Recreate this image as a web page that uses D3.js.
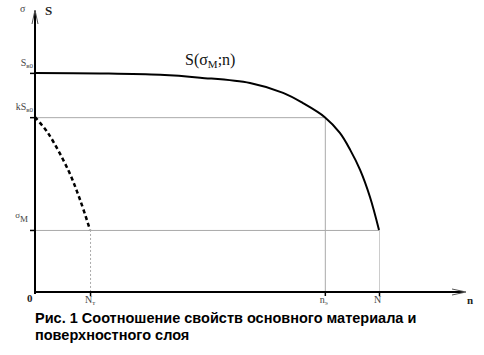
<!DOCTYPE html>
<html><head><meta charset="utf-8">
<script src="https://cdn.jsdelivr.net/npm/d3@7"></script>
<style>body{margin:0;background:#fff}svg{display:block}</style>
</head><body>
<svg id="c" width="484" height="355"></svg>
<script>
// data (arbitrary units)
const mainCurveN = [0, 15.1, 29.1, 38.4, 50, 57.7, 62.3, 67.4, 70.9, 73.3, 75.6, 77.9, 80];
const mainCurveS = [77.7, 77.5, 77.0, 76.0, 74.1, 70.6, 67, 62, 56.4, 50.4, 43.3, 33.7, 22];
const surfCurveN = [0, 3, 7.7, 10.5, 12.8];
const surfCurveS = [62, 56.4, 43.3, 32.6, 22];
const xTickValues = [12.8, 67.4, 80];
const xTickLabels = [["N","т"], ["n","э"], ["N",""]];
const yTickValues = [22, 62, 77.7];
const yTickLabels = [["σ","M",""], ["S","в0","k"], ["S","в0",""]];
const caption = ["Рис. 1 Соотношение свойств основного материала и", "поверхностного слоя"];

const svg = d3.select("#c");
const x = d3.scaleLinear().domain([0, 100]).range([35, 465]);
const y = d3.scaleLinear().domain([0, 100]).range([292, 10]);
const serif = "'Liberation Serif','Times New Roman',serif";

// guide lines
const Nt = xTickValues[0], ne = xTickValues[1], N = xTickValues[2];
const sM = yTickValues[0], kS = yTickValues[1];
const g = svg.append("g").attr("stroke", "#aaa").attr("stroke-width", 1).attr("fill", "none");
g.append("line").attr("x1", x(0)).attr("x2", x(ne)).attr("y1", y(kS)+0.5).attr("y2", y(kS)+0.5);
g.append("line").attr("x1", x(0)).attr("x2", x(N)).attr("y1", y(sM)+0.5).attr("y2", y(sM)+0.5);
g.append("line").attr("x1", x(ne)+0.5).attr("x2", x(ne)+0.5).attr("y1", y(kS)).attr("y2", y(0));
g.append("line").attr("x1", x(N)+0.5).attr("x2", x(N)+0.5).attr("y1", y(sM)).attr("y2", y(0)).attr("stroke", "#ccc");
g.append("line").attr("x1", x(Nt)+0.5).attr("x2", x(Nt)+0.5).attr("y1", y(sM)).attr("y2", y(0)).attr("stroke-dasharray", "2,2");

// curves
const line = d3.line().x(d => x(d[0])).y(d => y(d[1])).curve(d3.curveCatmullRom);
svg.append("path").datum(d3.zip(mainCurveN, mainCurveS)).attr("d", line)
  .attr("fill", "none").attr("stroke", "#000").attr("stroke-width", 2);
svg.append("path").datum(d3.zip(surfCurveN, surfCurveS)).attr("d", line)
  .attr("fill", "none").attr("stroke", "#000").attr("stroke-width", 2.5).attr("stroke-dasharray", "4,3");

// axes
const xAxis = d3.axisBottom(x).tickValues(xTickValues).tickSize(4).tickFormat("");
const yAxis = d3.axisLeft(y).tickValues(yTickValues).tickSize(5).tickFormat("");
const xa = svg.append("g").attr("transform", `translate(0,${y(0)})`).call(xAxis);
const ya = svg.append("g").attr("transform", `translate(${x(0)},0)`).call(yAxis);
[xa, ya].forEach(a => { a.select(".domain").remove(); a.selectAll(".tick line").attr("stroke", "#000").attr("stroke-width", 1.5); });
svg.append("line").attr("x1", x(0)).attr("x2", x(0)).attr("y1", y(0)+2).attr("y2", 11).attr("stroke", "#000").attr("stroke-width", 2);
svg.append("line").attr("x1", x(0)-1).attr("x2", 464).attr("y1", y(0)).attr("y2", y(0)).attr("stroke", "#000").attr("stroke-width", 2);
// arrowheads
svg.append("path").attr("d", `M${x(0)-3},24 L${x(0)},10 L${x(0)+3},24`).attr("fill", "none").attr("stroke", "#555").attr("stroke-width", 1);
svg.append("path").attr("d", `M452,${y(0)-3} L466,${y(0)} L452,${y(0)+3}`).attr("fill", "none").attr("stroke", "#555").attr("stroke-width", 1);

// axis titles
svg.append("text").attr("x", 20).attr("y", 12).attr("font-family", serif).attr("font-size", 10).attr("fill", "#444").text("σ");
svg.append("text").attr("x", 45).attr("y", 15).attr("font-family", serif).attr("font-size", 13).attr("font-weight", "bold").attr("fill", "#222").text("S");
svg.append("text").attr("x", 467).attr("y", 304).attr("font-family", serif).attr("font-size", 11).attr("font-weight", "bold").attr("fill", "#222").text("n");
svg.append("text").attr("x", 27).attr("y", 302).attr("font-family", serif).attr("font-size", 11).attr("font-weight", "bold").attr("fill", "#222").text("0");

// y tick labels
yTickValues.forEach((v, i) => {
  const [base, sub, pre] = yTickLabels[i];
  const t = svg.append("text").attr("font-family", serif).attr("fill", "#444").attr("font-size", 10).attr("text-anchor", "end");
  if (base === "σ") {
    t.attr("x", 28).attr("y", y(v) - 12);
    t.append("tspan").attr("font-size", 9).text("σ");
    t.append("tspan").attr("dy", 4).attr("font-size", 9).text(sub);
  } else {
    t.attr("x", 33).attr("y", y(v) - 7);
    t.append("tspan").text(pre + base);
    t.append("tspan").attr("dy", 2).attr("font-size", 7).text(sub);
  }
});
// x tick labels
xTickValues.forEach((v, i) => {
  const [base, sub] = xTickLabels[i];
  const t = svg.append("text").attr("font-family", serif).attr("fill", "#444").attr("font-size", 10)
    .attr("x", x(v) - 5).attr("y", 303);
  t.append("tspan").text(base);
  if (sub) t.append("tspan").attr("dy", 2).attr("font-size", 7).text(sub);
});

// curve label
const cl = svg.append("text").attr("x", 185).attr("y", 65).attr("font-family", serif).attr("font-size", 16).attr("fill", "#111");
cl.append("tspan").text("S(σ");
cl.append("tspan").attr("dy", 3).attr("font-size", 11).text("M");
cl.append("tspan").attr("dy", -3).text(";n)");

// caption
caption.forEach((c, i) => {
  svg.append("text").attr("x", 35).attr("y", 323 + i * 17).attr("font-family", "'Liberation Sans',Arial,sans-serif")
    .attr("font-size", 14.5).attr("font-weight", "bold").attr("fill", "#000").text(c);
});
</script>
</body></html>
